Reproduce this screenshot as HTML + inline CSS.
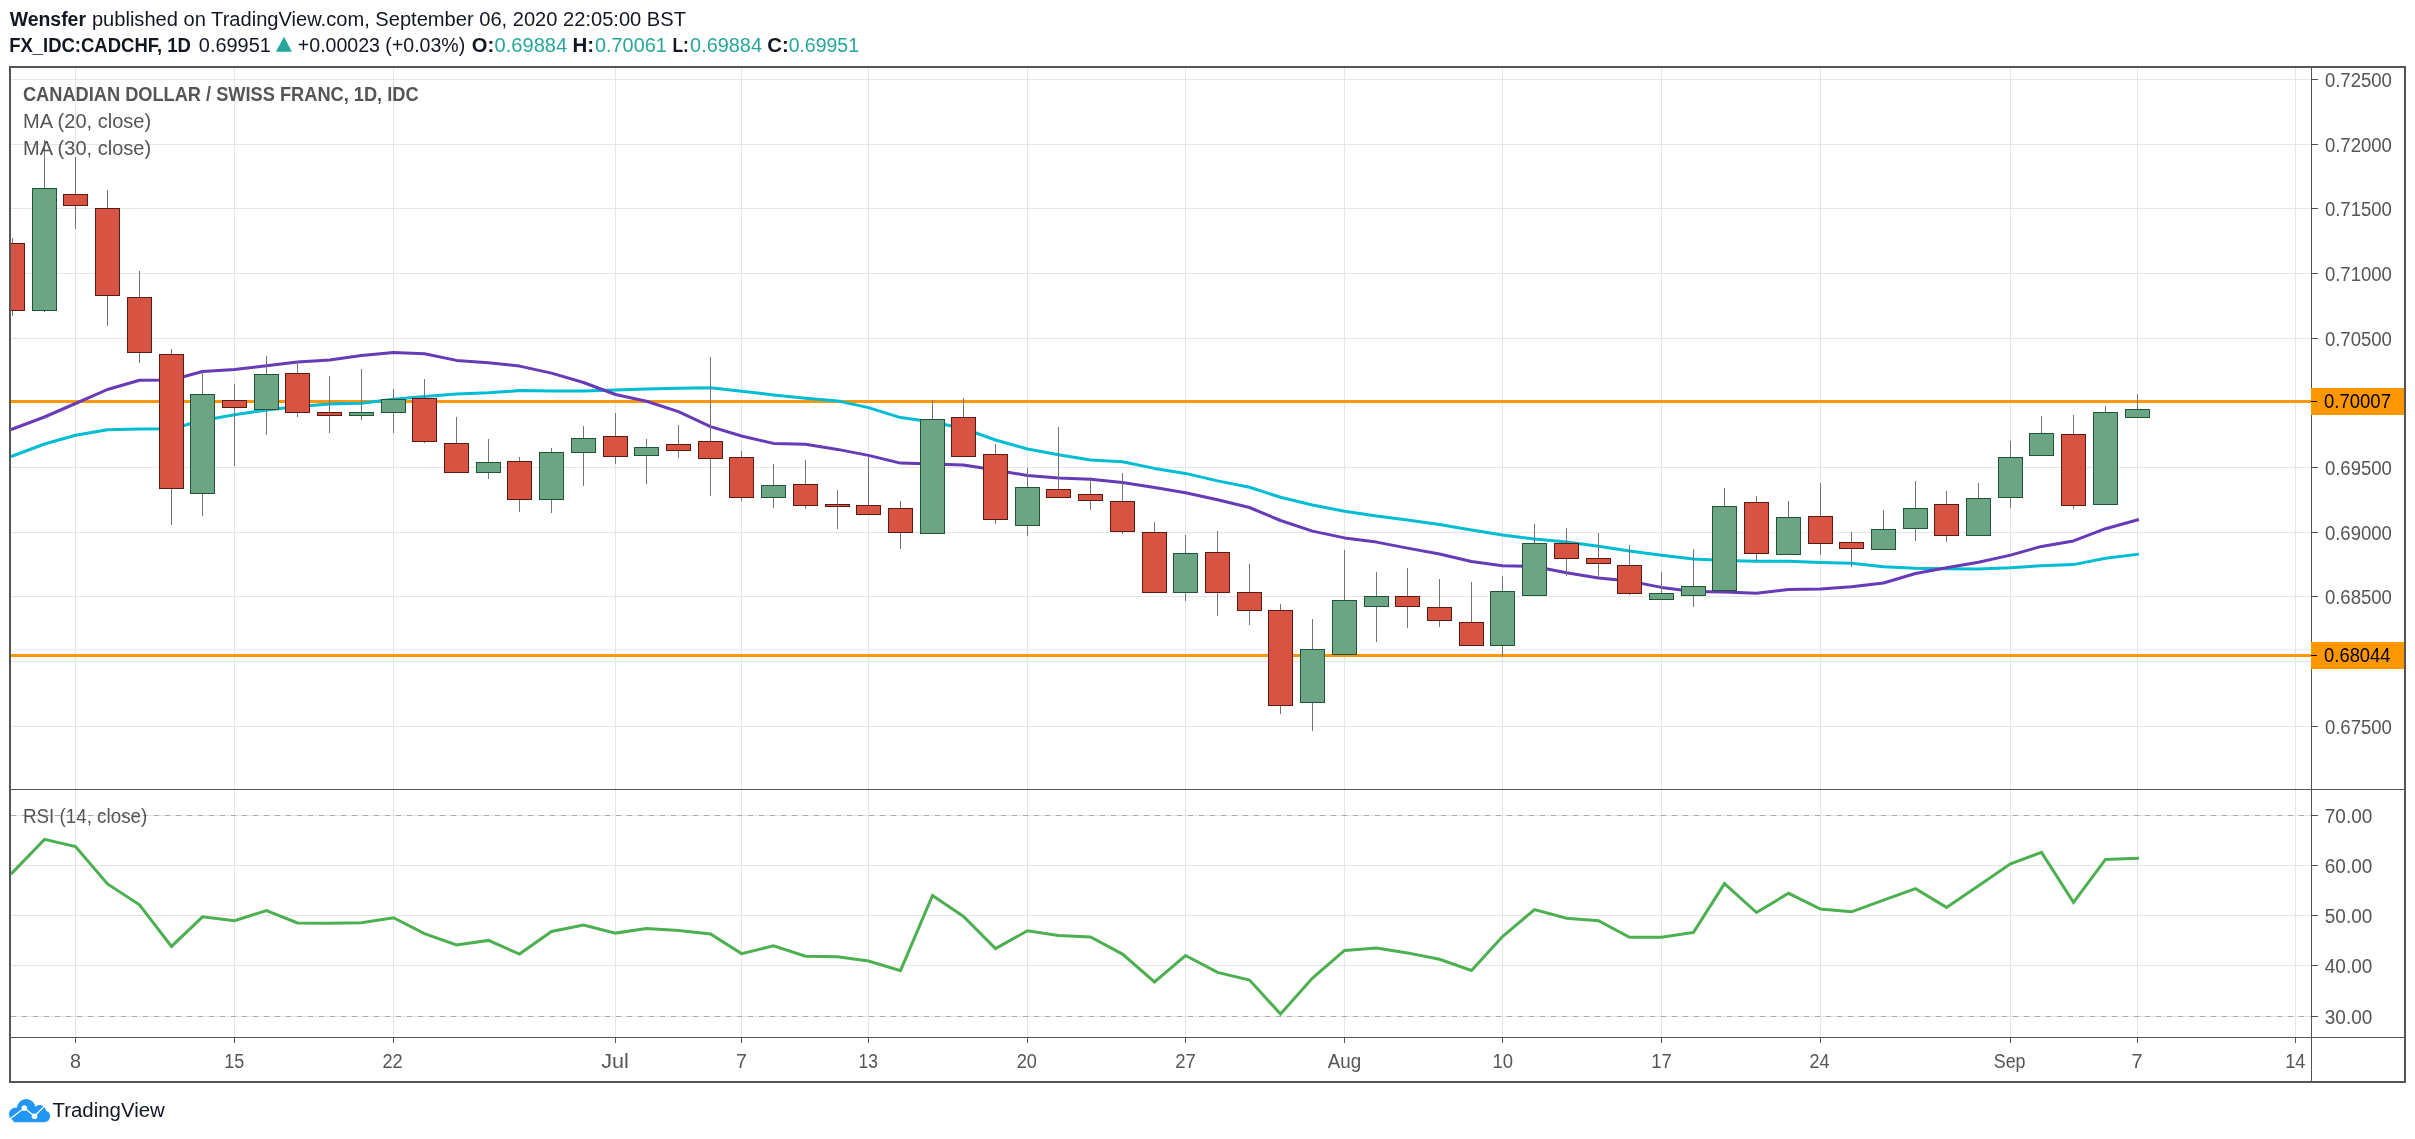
<!DOCTYPE html>
<html><head><meta charset="utf-8"><title>CADCHF chart</title><style>html,body{margin:0;padding:0;background:#fff;}body{width:2415px;height:1139px;overflow:hidden;}svg{display:block;will-change:transform;}</style></head><body>
<svg width="2415" height="1139" viewBox="0 0 2415 1139" font-family='"Liberation Sans", sans-serif'>
<rect x="0" y="0" width="2415" height="1139" fill="#ffffff"/>
<g shape-rendering="crispEdges">
<rect x="11" y="79" width="2300" height="1" fill="#e6e6e6"/>
<rect x="11" y="144" width="2300" height="1" fill="#e6e6e6"/>
<rect x="11" y="208" width="2300" height="1" fill="#e6e6e6"/>
<rect x="11" y="273" width="2300" height="1" fill="#e6e6e6"/>
<rect x="11" y="338" width="2300" height="1" fill="#e6e6e6"/>
<rect x="11" y="402" width="2300" height="1" fill="#e6e6e6"/>
<rect x="11" y="467" width="2300" height="1" fill="#e6e6e6"/>
<rect x="11" y="532" width="2300" height="1" fill="#e6e6e6"/>
<rect x="11" y="596" width="2300" height="1" fill="#e6e6e6"/>
<rect x="11" y="661" width="2300" height="1" fill="#e6e6e6"/>
<rect x="11" y="726" width="2300" height="1" fill="#e6e6e6"/>
<rect x="75" y="68" width="1" height="721" fill="#e6e6e6"/>
<rect x="75" y="790" width="1" height="247" fill="#e6e6e6"/>
<rect x="234" y="68" width="1" height="721" fill="#e6e6e6"/>
<rect x="234" y="790" width="1" height="247" fill="#e6e6e6"/>
<rect x="393" y="68" width="1" height="721" fill="#e6e6e6"/>
<rect x="393" y="790" width="1" height="247" fill="#e6e6e6"/>
<rect x="615" y="68" width="1" height="721" fill="#e6e6e6"/>
<rect x="615" y="790" width="1" height="247" fill="#e6e6e6"/>
<rect x="741" y="68" width="1" height="721" fill="#e6e6e6"/>
<rect x="741" y="790" width="1" height="247" fill="#e6e6e6"/>
<rect x="868" y="68" width="1" height="721" fill="#e6e6e6"/>
<rect x="868" y="790" width="1" height="247" fill="#e6e6e6"/>
<rect x="1027" y="68" width="1" height="721" fill="#e6e6e6"/>
<rect x="1027" y="790" width="1" height="247" fill="#e6e6e6"/>
<rect x="1185" y="68" width="1" height="721" fill="#e6e6e6"/>
<rect x="1185" y="790" width="1" height="247" fill="#e6e6e6"/>
<rect x="1344" y="68" width="1" height="721" fill="#e6e6e6"/>
<rect x="1344" y="790" width="1" height="247" fill="#e6e6e6"/>
<rect x="1502" y="68" width="1" height="721" fill="#e6e6e6"/>
<rect x="1502" y="790" width="1" height="247" fill="#e6e6e6"/>
<rect x="1661" y="68" width="1" height="721" fill="#e6e6e6"/>
<rect x="1661" y="790" width="1" height="247" fill="#e6e6e6"/>
<rect x="1820" y="68" width="1" height="721" fill="#e6e6e6"/>
<rect x="1820" y="790" width="1" height="247" fill="#e6e6e6"/>
<rect x="2010" y="68" width="1" height="721" fill="#e6e6e6"/>
<rect x="2010" y="790" width="1" height="247" fill="#e6e6e6"/>
<rect x="2137" y="68" width="1" height="721" fill="#e6e6e6"/>
<rect x="2137" y="790" width="1" height="247" fill="#e6e6e6"/>
<rect x="2295" y="68" width="1" height="721" fill="#e6e6e6"/>
<rect x="2295" y="790" width="1" height="247" fill="#e6e6e6"/>
<rect x="11" y="865" width="2300" height="1" fill="#e6e6e6"/>
<rect x="11" y="915" width="2300" height="1" fill="#e6e6e6"/>
<rect x="11" y="965" width="2300" height="1" fill="#e6e6e6"/>
<rect x="11" y="815" width="2300" height="1" fill="#e6e6e6"/>
<rect x="11" y="1016" width="2300" height="1" fill="#e6e6e6"/>
</g>
<line x1="11" y1="815.5" x2="2311" y2="815.5" stroke="#a9a9a9" stroke-width="1" stroke-dasharray="5 6" shape-rendering="crispEdges"/>
<line x1="11" y1="1016.5" x2="2311" y2="1016.5" stroke="#a9a9a9" stroke-width="1" stroke-dasharray="5 6" shape-rendering="crispEdges"/>
<g shape-rendering="crispEdges">
<rect x="11" y="400" width="2300" height="3" fill="#ff9800"/>
<rect x="11" y="654" width="2300" height="3" fill="#ff9800"/>
</g>
<defs><clipPath id="mainclip"><rect x="11" y="68" width="2300" height="721"/></clipPath><clipPath id="rsiclip"><rect x="11" y="790" width="2300" height="247"/></clipPath></defs>
<g clip-path="url(#mainclip)">
<polyline points="11.0,456.4 12.5,456.0 44.5,444.0 75.5,435.3 107.5,429.7 139.5,429.0 171.5,428.8 202.5,420.5 234.5,414.8 266.5,410.0 297.5,406.5 329.5,404.1 361.5,403.2 393.5,399.3 424.5,396.5 456.5,394.0 488.5,392.8 519.5,390.6 551.5,391.0 583.5,391.0 615.5,390.0 646.5,389.0 678.5,388.2 710.5,387.8 741.5,391.2 773.5,394.9 805.5,398.2 837.5,400.9 868.5,407.6 900.5,417.6 932.5,422.0 963.5,428.5 995.5,440.0 1027.5,449.0 1058.5,454.7 1090.5,460.0 1122.5,461.7 1154.5,468.4 1185.5,473.4 1217.5,480.9 1249.5,487.2 1280.5,497.3 1312.5,505.0 1344.5,511.3 1376.5,516.1 1407.5,520.1 1439.5,524.6 1471.5,529.9 1502.5,535.1 1534.5,539.0 1566.5,542.1 1598.5,546.3 1629.5,551.1 1661.5,555.3 1693.5,559.1 1724.5,560.5 1756.5,561.2 1788.5,561.2 1820.5,562.4 1851.5,563.2 1883.5,566.7 1915.5,568.3 1946.5,568.8 1978.5,569.0 2010.5,567.8 2041.5,565.7 2073.5,564.6 2105.5,558.3 2137.5,554.3" fill="none" stroke="#00bcd4" stroke-width="3" stroke-linejoin="round" stroke-linecap="square"/>
<polyline points="11.0,429.4 12.5,429.0 44.5,417.0 75.5,403.5 107.5,389.5 139.5,380.3 171.5,380.0 202.5,371.5 234.5,369.6 266.5,365.8 297.5,361.9 329.5,360.0 361.5,355.4 393.5,352.4 424.5,353.7 456.5,360.4 488.5,362.7 519.5,366.1 551.5,373.1 583.5,382.5 615.5,394.5 646.5,401.2 678.5,411.6 710.5,426.6 741.5,436.0 773.5,443.4 805.5,444.2 837.5,449.4 868.5,455.4 900.5,463.1 932.5,464.0 963.5,465.1 995.5,470.0 1027.5,475.6 1058.5,477.9 1090.5,479.2 1122.5,482.6 1154.5,487.6 1185.5,492.7 1217.5,499.7 1249.5,507.5 1280.5,520.5 1312.5,531.1 1344.5,537.9 1376.5,542.1 1407.5,548.1 1439.5,554.0 1471.5,561.5 1502.5,565.7 1534.5,566.5 1566.5,572.7 1598.5,577.9 1629.5,581.1 1661.5,587.4 1693.5,591.6 1724.5,592.1 1756.5,593.3 1788.5,589.6 1820.5,589.0 1851.5,586.8 1883.5,583.0 1915.5,573.5 1946.5,567.8 1978.5,562.2 2010.5,555.1 2041.5,546.4 2073.5,540.9 2105.5,528.7 2137.5,519.9" fill="none" stroke="#673ab7" stroke-width="3" stroke-linejoin="round" stroke-linecap="square"/>
<g shape-rendering="crispEdges">
<rect x="12" y="238" width="1" height="5" fill="#737375"/>
<rect x="12" y="311" width="1" height="5" fill="#737375"/>
<rect x="0" y="243" width="25" height="68" fill="#5b1a13"/>
<rect x="1" y="244" width="23" height="66" fill="#d75442"/>
<rect x="44" y="140" width="1" height="48" fill="#737375"/>
<rect x="44" y="311" width="1" height="1" fill="#737375"/>
<rect x="32" y="188" width="25" height="123" fill="#225437"/>
<rect x="33" y="189" width="23" height="121" fill="#6ba583"/>
<rect x="75" y="157" width="1" height="37" fill="#737375"/>
<rect x="75" y="206" width="1" height="23" fill="#737375"/>
<rect x="63" y="194" width="25" height="12" fill="#5b1a13"/>
<rect x="64" y="195" width="23" height="10" fill="#d75442"/>
<rect x="107" y="190" width="1" height="18" fill="#737375"/>
<rect x="107" y="296" width="1" height="30" fill="#737375"/>
<rect x="95" y="208" width="25" height="88" fill="#5b1a13"/>
<rect x="96" y="209" width="23" height="86" fill="#d75442"/>
<rect x="139" y="271" width="1" height="26" fill="#737375"/>
<rect x="139" y="353" width="1" height="10" fill="#737375"/>
<rect x="127" y="297" width="25" height="56" fill="#5b1a13"/>
<rect x="128" y="298" width="23" height="54" fill="#d75442"/>
<rect x="171" y="349" width="1" height="5" fill="#737375"/>
<rect x="171" y="489" width="1" height="36" fill="#737375"/>
<rect x="159" y="354" width="25" height="135" fill="#5b1a13"/>
<rect x="160" y="355" width="23" height="133" fill="#d75442"/>
<rect x="202" y="372" width="1" height="22" fill="#737375"/>
<rect x="202" y="494" width="1" height="22" fill="#737375"/>
<rect x="190" y="394" width="25" height="100" fill="#225437"/>
<rect x="191" y="395" width="23" height="98" fill="#6ba583"/>
<rect x="234" y="384" width="1" height="16" fill="#737375"/>
<rect x="234" y="408" width="1" height="58" fill="#737375"/>
<rect x="222" y="400" width="25" height="8" fill="#5b1a13"/>
<rect x="223" y="401" width="23" height="6" fill="#d75442"/>
<rect x="266" y="356" width="1" height="18" fill="#737375"/>
<rect x="266" y="410" width="1" height="25" fill="#737375"/>
<rect x="254" y="374" width="25" height="36" fill="#225437"/>
<rect x="255" y="375" width="23" height="34" fill="#6ba583"/>
<rect x="297" y="361" width="1" height="12" fill="#737375"/>
<rect x="297" y="413" width="1" height="4" fill="#737375"/>
<rect x="285" y="373" width="25" height="40" fill="#5b1a13"/>
<rect x="286" y="374" width="23" height="38" fill="#d75442"/>
<rect x="329" y="376" width="1" height="36" fill="#737375"/>
<rect x="329" y="416" width="1" height="17" fill="#737375"/>
<rect x="317" y="412" width="25" height="4" fill="#5b1a13"/>
<rect x="318" y="413" width="23" height="2" fill="#d75442"/>
<rect x="361" y="369" width="1" height="43" fill="#737375"/>
<rect x="361" y="416" width="1" height="4" fill="#737375"/>
<rect x="349" y="412" width="25" height="4" fill="#225437"/>
<rect x="350" y="413" width="23" height="2" fill="#6ba583"/>
<rect x="393" y="389" width="1" height="10" fill="#737375"/>
<rect x="393" y="413" width="1" height="20" fill="#737375"/>
<rect x="381" y="399" width="25" height="14" fill="#225437"/>
<rect x="382" y="400" width="23" height="12" fill="#6ba583"/>
<rect x="424" y="379" width="1" height="19" fill="#737375"/>
<rect x="424" y="442" width="1" height="1" fill="#737375"/>
<rect x="412" y="398" width="25" height="44" fill="#5b1a13"/>
<rect x="413" y="399" width="23" height="42" fill="#d75442"/>
<rect x="456" y="417" width="1" height="26" fill="#737375"/>
<rect x="444" y="443" width="25" height="30" fill="#5b1a13"/>
<rect x="445" y="444" width="23" height="28" fill="#d75442"/>
<rect x="488" y="439" width="1" height="23" fill="#737375"/>
<rect x="488" y="473" width="1" height="6" fill="#737375"/>
<rect x="476" y="462" width="25" height="11" fill="#225437"/>
<rect x="477" y="463" width="23" height="9" fill="#6ba583"/>
<rect x="519" y="457" width="1" height="4" fill="#737375"/>
<rect x="519" y="500" width="1" height="12" fill="#737375"/>
<rect x="507" y="461" width="25" height="39" fill="#5b1a13"/>
<rect x="508" y="462" width="23" height="37" fill="#d75442"/>
<rect x="551" y="448" width="1" height="4" fill="#737375"/>
<rect x="551" y="500" width="1" height="13" fill="#737375"/>
<rect x="539" y="452" width="25" height="48" fill="#225437"/>
<rect x="540" y="453" width="23" height="46" fill="#6ba583"/>
<rect x="583" y="426" width="1" height="12" fill="#737375"/>
<rect x="583" y="453" width="1" height="33" fill="#737375"/>
<rect x="571" y="438" width="25" height="15" fill="#225437"/>
<rect x="572" y="439" width="23" height="13" fill="#6ba583"/>
<rect x="615" y="413" width="1" height="23" fill="#737375"/>
<rect x="615" y="457" width="1" height="7" fill="#737375"/>
<rect x="603" y="436" width="25" height="21" fill="#5b1a13"/>
<rect x="604" y="437" width="23" height="19" fill="#d75442"/>
<rect x="646" y="439" width="1" height="8" fill="#737375"/>
<rect x="646" y="456" width="1" height="28" fill="#737375"/>
<rect x="634" y="447" width="25" height="9" fill="#225437"/>
<rect x="635" y="448" width="23" height="7" fill="#6ba583"/>
<rect x="678" y="425" width="1" height="19" fill="#737375"/>
<rect x="678" y="451" width="1" height="7" fill="#737375"/>
<rect x="666" y="444" width="25" height="7" fill="#5b1a13"/>
<rect x="667" y="445" width="23" height="5" fill="#d75442"/>
<rect x="710" y="357" width="1" height="84" fill="#737375"/>
<rect x="710" y="459" width="1" height="37" fill="#737375"/>
<rect x="698" y="441" width="25" height="18" fill="#5b1a13"/>
<rect x="699" y="442" width="23" height="16" fill="#d75442"/>
<rect x="741" y="451" width="1" height="6" fill="#737375"/>
<rect x="741" y="498" width="1" height="3" fill="#737375"/>
<rect x="729" y="457" width="25" height="41" fill="#5b1a13"/>
<rect x="730" y="458" width="23" height="39" fill="#d75442"/>
<rect x="773" y="464" width="1" height="21" fill="#737375"/>
<rect x="773" y="498" width="1" height="10" fill="#737375"/>
<rect x="761" y="485" width="25" height="13" fill="#225437"/>
<rect x="762" y="486" width="23" height="11" fill="#6ba583"/>
<rect x="805" y="460" width="1" height="24" fill="#737375"/>
<rect x="805" y="506" width="1" height="3" fill="#737375"/>
<rect x="793" y="484" width="25" height="22" fill="#5b1a13"/>
<rect x="794" y="485" width="23" height="20" fill="#d75442"/>
<rect x="837" y="490" width="1" height="14" fill="#737375"/>
<rect x="837" y="507" width="1" height="22" fill="#737375"/>
<rect x="825" y="504" width="25" height="3" fill="#5b1a13"/>
<rect x="826" y="505" width="23" height="1" fill="#d75442"/>
<rect x="868" y="456" width="1" height="49" fill="#737375"/>
<rect x="856" y="505" width="25" height="10" fill="#5b1a13"/>
<rect x="857" y="506" width="23" height="8" fill="#d75442"/>
<rect x="900" y="501" width="1" height="7" fill="#737375"/>
<rect x="900" y="533" width="1" height="16" fill="#737375"/>
<rect x="888" y="508" width="25" height="25" fill="#5b1a13"/>
<rect x="889" y="509" width="23" height="23" fill="#d75442"/>
<rect x="932" y="400" width="1" height="19" fill="#737375"/>
<rect x="920" y="419" width="25" height="115" fill="#225437"/>
<rect x="921" y="420" width="23" height="113" fill="#6ba583"/>
<rect x="963" y="398" width="1" height="19" fill="#737375"/>
<rect x="951" y="417" width="25" height="40" fill="#5b1a13"/>
<rect x="952" y="418" width="23" height="38" fill="#d75442"/>
<rect x="995" y="444" width="1" height="10" fill="#737375"/>
<rect x="995" y="520" width="1" height="4" fill="#737375"/>
<rect x="983" y="454" width="25" height="66" fill="#5b1a13"/>
<rect x="984" y="455" width="23" height="64" fill="#d75442"/>
<rect x="1027" y="468" width="1" height="19" fill="#737375"/>
<rect x="1027" y="526" width="1" height="10" fill="#737375"/>
<rect x="1015" y="487" width="25" height="39" fill="#225437"/>
<rect x="1016" y="488" width="23" height="37" fill="#6ba583"/>
<rect x="1058" y="427" width="1" height="62" fill="#737375"/>
<rect x="1046" y="489" width="25" height="9" fill="#5b1a13"/>
<rect x="1047" y="490" width="23" height="7" fill="#d75442"/>
<rect x="1090" y="477" width="1" height="17" fill="#737375"/>
<rect x="1090" y="501" width="1" height="9" fill="#737375"/>
<rect x="1078" y="494" width="25" height="7" fill="#5b1a13"/>
<rect x="1079" y="495" width="23" height="5" fill="#d75442"/>
<rect x="1122" y="473" width="1" height="28" fill="#737375"/>
<rect x="1122" y="532" width="1" height="2" fill="#737375"/>
<rect x="1110" y="501" width="25" height="31" fill="#5b1a13"/>
<rect x="1111" y="502" width="23" height="29" fill="#d75442"/>
<rect x="1154" y="522" width="1" height="10" fill="#737375"/>
<rect x="1142" y="532" width="25" height="61" fill="#5b1a13"/>
<rect x="1143" y="533" width="23" height="59" fill="#d75442"/>
<rect x="1185" y="535" width="1" height="18" fill="#737375"/>
<rect x="1185" y="593" width="1" height="8" fill="#737375"/>
<rect x="1173" y="553" width="25" height="40" fill="#225437"/>
<rect x="1174" y="554" width="23" height="38" fill="#6ba583"/>
<rect x="1217" y="531" width="1" height="21" fill="#737375"/>
<rect x="1217" y="593" width="1" height="23" fill="#737375"/>
<rect x="1205" y="552" width="25" height="41" fill="#5b1a13"/>
<rect x="1206" y="553" width="23" height="39" fill="#d75442"/>
<rect x="1249" y="564" width="1" height="28" fill="#737375"/>
<rect x="1249" y="611" width="1" height="14" fill="#737375"/>
<rect x="1237" y="592" width="25" height="19" fill="#5b1a13"/>
<rect x="1238" y="593" width="23" height="17" fill="#d75442"/>
<rect x="1280" y="604" width="1" height="6" fill="#737375"/>
<rect x="1280" y="706" width="1" height="8" fill="#737375"/>
<rect x="1268" y="610" width="25" height="96" fill="#5b1a13"/>
<rect x="1269" y="611" width="23" height="94" fill="#d75442"/>
<rect x="1312" y="619" width="1" height="30" fill="#737375"/>
<rect x="1312" y="703" width="1" height="28" fill="#737375"/>
<rect x="1300" y="649" width="25" height="54" fill="#225437"/>
<rect x="1301" y="650" width="23" height="52" fill="#6ba583"/>
<rect x="1344" y="550" width="1" height="50" fill="#737375"/>
<rect x="1332" y="600" width="25" height="55" fill="#225437"/>
<rect x="1333" y="601" width="23" height="53" fill="#6ba583"/>
<rect x="1376" y="572" width="1" height="24" fill="#737375"/>
<rect x="1376" y="607" width="1" height="35" fill="#737375"/>
<rect x="1364" y="596" width="25" height="11" fill="#225437"/>
<rect x="1365" y="597" width="23" height="9" fill="#6ba583"/>
<rect x="1407" y="568" width="1" height="28" fill="#737375"/>
<rect x="1407" y="607" width="1" height="21" fill="#737375"/>
<rect x="1395" y="596" width="25" height="11" fill="#5b1a13"/>
<rect x="1396" y="597" width="23" height="9" fill="#d75442"/>
<rect x="1439" y="579" width="1" height="28" fill="#737375"/>
<rect x="1439" y="621" width="1" height="6" fill="#737375"/>
<rect x="1427" y="607" width="25" height="14" fill="#5b1a13"/>
<rect x="1428" y="608" width="23" height="12" fill="#d75442"/>
<rect x="1471" y="582" width="1" height="40" fill="#737375"/>
<rect x="1459" y="622" width="25" height="24" fill="#5b1a13"/>
<rect x="1460" y="623" width="23" height="22" fill="#d75442"/>
<rect x="1502" y="576" width="1" height="15" fill="#737375"/>
<rect x="1502" y="646" width="1" height="11" fill="#737375"/>
<rect x="1490" y="591" width="25" height="55" fill="#225437"/>
<rect x="1491" y="592" width="23" height="53" fill="#6ba583"/>
<rect x="1534" y="524" width="1" height="19" fill="#737375"/>
<rect x="1522" y="543" width="25" height="53" fill="#225437"/>
<rect x="1523" y="544" width="23" height="51" fill="#6ba583"/>
<rect x="1566" y="528" width="1" height="15" fill="#737375"/>
<rect x="1566" y="559" width="1" height="17" fill="#737375"/>
<rect x="1554" y="543" width="25" height="16" fill="#5b1a13"/>
<rect x="1555" y="544" width="23" height="14" fill="#d75442"/>
<rect x="1598" y="533" width="1" height="25" fill="#737375"/>
<rect x="1598" y="564" width="1" height="13" fill="#737375"/>
<rect x="1586" y="558" width="25" height="6" fill="#5b1a13"/>
<rect x="1587" y="559" width="23" height="4" fill="#d75442"/>
<rect x="1629" y="545" width="1" height="20" fill="#737375"/>
<rect x="1629" y="594" width="1" height="1" fill="#737375"/>
<rect x="1617" y="565" width="25" height="29" fill="#5b1a13"/>
<rect x="1618" y="566" width="23" height="27" fill="#d75442"/>
<rect x="1661" y="572" width="1" height="21" fill="#737375"/>
<rect x="1649" y="593" width="25" height="7" fill="#225437"/>
<rect x="1650" y="594" width="23" height="5" fill="#6ba583"/>
<rect x="1693" y="549" width="1" height="37" fill="#737375"/>
<rect x="1693" y="596" width="1" height="11" fill="#737375"/>
<rect x="1681" y="586" width="25" height="10" fill="#225437"/>
<rect x="1682" y="587" width="23" height="8" fill="#6ba583"/>
<rect x="1724" y="488" width="1" height="18" fill="#737375"/>
<rect x="1712" y="506" width="25" height="85" fill="#225437"/>
<rect x="1713" y="507" width="23" height="83" fill="#6ba583"/>
<rect x="1756" y="496" width="1" height="6" fill="#737375"/>
<rect x="1756" y="554" width="1" height="7" fill="#737375"/>
<rect x="1744" y="502" width="25" height="52" fill="#5b1a13"/>
<rect x="1745" y="503" width="23" height="50" fill="#d75442"/>
<rect x="1788" y="501" width="1" height="16" fill="#737375"/>
<rect x="1776" y="517" width="25" height="38" fill="#225437"/>
<rect x="1777" y="518" width="23" height="36" fill="#6ba583"/>
<rect x="1820" y="483" width="1" height="33" fill="#737375"/>
<rect x="1820" y="544" width="1" height="11" fill="#737375"/>
<rect x="1808" y="516" width="25" height="28" fill="#5b1a13"/>
<rect x="1809" y="517" width="23" height="26" fill="#d75442"/>
<rect x="1851" y="532" width="1" height="10" fill="#737375"/>
<rect x="1851" y="549" width="1" height="18" fill="#737375"/>
<rect x="1839" y="542" width="25" height="7" fill="#5b1a13"/>
<rect x="1840" y="543" width="23" height="5" fill="#d75442"/>
<rect x="1883" y="510" width="1" height="19" fill="#737375"/>
<rect x="1871" y="529" width="25" height="21" fill="#225437"/>
<rect x="1872" y="530" width="23" height="19" fill="#6ba583"/>
<rect x="1915" y="481" width="1" height="27" fill="#737375"/>
<rect x="1915" y="529" width="1" height="12" fill="#737375"/>
<rect x="1903" y="508" width="25" height="21" fill="#225437"/>
<rect x="1904" y="509" width="23" height="19" fill="#6ba583"/>
<rect x="1946" y="491" width="1" height="13" fill="#737375"/>
<rect x="1946" y="536" width="1" height="6" fill="#737375"/>
<rect x="1934" y="504" width="25" height="32" fill="#5b1a13"/>
<rect x="1935" y="505" width="23" height="30" fill="#d75442"/>
<rect x="1978" y="483" width="1" height="15" fill="#737375"/>
<rect x="1966" y="498" width="25" height="38" fill="#225437"/>
<rect x="1967" y="499" width="23" height="36" fill="#6ba583"/>
<rect x="2010" y="441" width="1" height="16" fill="#737375"/>
<rect x="2010" y="498" width="1" height="10" fill="#737375"/>
<rect x="1998" y="457" width="25" height="41" fill="#225437"/>
<rect x="1999" y="458" width="23" height="39" fill="#6ba583"/>
<rect x="2041" y="416" width="1" height="17" fill="#737375"/>
<rect x="2029" y="433" width="25" height="23" fill="#225437"/>
<rect x="2030" y="434" width="23" height="21" fill="#6ba583"/>
<rect x="2073" y="415" width="1" height="19" fill="#737375"/>
<rect x="2073" y="506" width="1" height="3" fill="#737375"/>
<rect x="2061" y="434" width="25" height="72" fill="#5b1a13"/>
<rect x="2062" y="435" width="23" height="70" fill="#d75442"/>
<rect x="2105" y="406" width="1" height="6" fill="#737375"/>
<rect x="2093" y="412" width="25" height="93" fill="#225437"/>
<rect x="2094" y="413" width="23" height="91" fill="#6ba583"/>
<rect x="2137" y="394" width="1" height="15" fill="#737375"/>
<rect x="2125" y="409" width="25" height="9" fill="#225437"/>
<rect x="2126" y="410" width="23" height="7" fill="#6ba583"/>
</g>
</g>
<g clip-path="url(#rsiclip)">
<polyline points="11.0,873.5 12.5,872.5 44.5,839.4 75.5,846.6 107.5,883.9 139.5,904.8 171.5,946.4 202.5,916.8 234.5,920.7 266.5,910.5 297.5,923.0 329.5,923.3 361.5,922.8 393.5,917.7 424.5,933.6 456.5,945.0 488.5,940.4 519.5,954.1 551.5,931.5 583.5,925.0 615.5,933.1 646.5,928.4 678.5,930.5 710.5,933.9 741.5,953.6 773.5,945.9 805.5,956.2 837.5,956.7 868.5,961.0 900.5,970.7 932.5,895.4 963.5,916.5 995.5,948.6 1027.5,930.7 1058.5,935.6 1090.5,937.0 1122.5,954.1 1154.5,981.9 1185.5,955.5 1217.5,972.4 1249.5,980.1 1280.5,1014.0 1312.5,978.1 1344.5,950.4 1376.5,948.1 1407.5,952.9 1439.5,959.3 1471.5,970.4 1502.5,936.5 1534.5,909.6 1566.5,918.2 1598.5,920.7 1629.5,937.3 1661.5,937.3 1693.5,932.4 1724.5,883.6 1756.5,912.5 1788.5,893.3 1820.5,909.1 1851.5,911.8 1883.5,900.2 1915.5,888.7 1946.5,907.4 1978.5,885.7 2010.5,863.8 2041.5,852.4 2073.5,902.4 2105.5,859.4 2137.5,858.4" fill="none" stroke="#4caf50" stroke-width="3" stroke-linejoin="miter" stroke-miterlimit="3" stroke-linecap="square"/>
</g>
<g shape-rendering="crispEdges">
<rect x="9" y="66" width="2397" height="2" fill="#555555"/>
<rect x="9" y="1081" width="2397" height="2" fill="#555555"/>
<rect x="9" y="66" width="2" height="1017" fill="#555555"/>
<rect x="2404" y="66" width="2" height="1017" fill="#555555"/>
<rect x="2311" y="68" width="1" height="1013" fill="#555555"/>
<rect x="11" y="789" width="2393" height="1" fill="#555555"/>
<rect x="11" y="1037" width="2393" height="1" fill="#555555"/>
<rect x="2312" y="79" width="6" height="1" fill="#555555"/>
<rect x="2312" y="144" width="6" height="1" fill="#555555"/>
<rect x="2312" y="208" width="6" height="1" fill="#555555"/>
<rect x="2312" y="273" width="6" height="1" fill="#555555"/>
<rect x="2312" y="338" width="6" height="1" fill="#555555"/>
<rect x="2312" y="467" width="6" height="1" fill="#555555"/>
<rect x="2312" y="532" width="6" height="1" fill="#555555"/>
<rect x="2312" y="596" width="6" height="1" fill="#555555"/>
<rect x="2312" y="726" width="6" height="1" fill="#555555"/>
<rect x="2312" y="815" width="6" height="1" fill="#555555"/>
<rect x="2312" y="865" width="6" height="1" fill="#555555"/>
<rect x="2312" y="915" width="6" height="1" fill="#555555"/>
<rect x="2312" y="965" width="6" height="1" fill="#555555"/>
<rect x="2312" y="1016" width="6" height="1" fill="#555555"/>
<rect x="75" y="1038" width="1" height="5" fill="#555555"/>
<rect x="234" y="1038" width="1" height="5" fill="#555555"/>
<rect x="393" y="1038" width="1" height="5" fill="#555555"/>
<rect x="615" y="1038" width="1" height="5" fill="#555555"/>
<rect x="741" y="1038" width="1" height="5" fill="#555555"/>
<rect x="868" y="1038" width="1" height="5" fill="#555555"/>
<rect x="1027" y="1038" width="1" height="5" fill="#555555"/>
<rect x="1185" y="1038" width="1" height="5" fill="#555555"/>
<rect x="1344" y="1038" width="1" height="5" fill="#555555"/>
<rect x="1502" y="1038" width="1" height="5" fill="#555555"/>
<rect x="1661" y="1038" width="1" height="5" fill="#555555"/>
<rect x="1820" y="1038" width="1" height="5" fill="#555555"/>
<rect x="2010" y="1038" width="1" height="5" fill="#555555"/>
<rect x="2137" y="1038" width="1" height="5" fill="#555555"/>
<rect x="2295" y="1038" width="1" height="5" fill="#555555"/>
</g>
<text x="2324.88" y="86.9" font-size="20" fill="#555555" textLength="67.05" lengthAdjust="spacingAndGlyphs">0.72500</text>
<text x="2324.88" y="151.9" font-size="20" fill="#555555" textLength="67.05" lengthAdjust="spacingAndGlyphs">0.72000</text>
<text x="2324.88" y="215.9" font-size="20" fill="#555555" textLength="67.05" lengthAdjust="spacingAndGlyphs">0.71500</text>
<text x="2324.88" y="280.9" font-size="20" fill="#555555" textLength="67.05" lengthAdjust="spacingAndGlyphs">0.71000</text>
<text x="2324.88" y="345.9" font-size="20" fill="#555555" textLength="67.05" lengthAdjust="spacingAndGlyphs">0.70500</text>
<text x="2324.88" y="474.9" font-size="20" fill="#555555" textLength="67.05" lengthAdjust="spacingAndGlyphs">0.69500</text>
<text x="2324.88" y="539.9" font-size="20" fill="#555555" textLength="67.05" lengthAdjust="spacingAndGlyphs">0.69000</text>
<text x="2324.88" y="603.9" font-size="20" fill="#555555" textLength="67.05" lengthAdjust="spacingAndGlyphs">0.68500</text>
<text x="2324.88" y="733.9" font-size="20" fill="#555555" textLength="67.05" lengthAdjust="spacingAndGlyphs">0.67500</text>
<text x="2324.83" y="822.9" font-size="20" fill="#555555" textLength="47.41" lengthAdjust="spacingAndGlyphs">70.00</text>
<text x="2324.83" y="872.9" font-size="20" fill="#555555" textLength="47.41" lengthAdjust="spacingAndGlyphs">60.00</text>
<text x="2324.83" y="922.9" font-size="20" fill="#555555" textLength="47.41" lengthAdjust="spacingAndGlyphs">50.00</text>
<text x="2324.83" y="972.9" font-size="20" fill="#555555" textLength="47.41" lengthAdjust="spacingAndGlyphs">40.00</text>
<text x="2324.83" y="1023.9" font-size="20" fill="#555555" textLength="47.41" lengthAdjust="spacingAndGlyphs">30.00</text>
<g shape-rendering="crispEdges">
<rect x="2311" y="388" width="93" height="27" fill="#ff9800"/>
<rect x="2311" y="642" width="93" height="27" fill="#ff9800"/>
<rect x="2311" y="401" width="6" height="1" fill="#000000"/>
<rect x="2311" y="655" width="6" height="1" fill="#000000"/>
</g>
<text x="2324.08" y="407.7" font-size="19.5" fill="#000000" textLength="66.85" lengthAdjust="spacingAndGlyphs">0.70007</text>
<text x="2324.08" y="661.7" font-size="19.5" fill="#000000" textLength="66.46" lengthAdjust="spacingAndGlyphs">0.68044</text>
<text x="70.04" y="1067.8" font-size="20" fill="#555555" textLength="11.02" lengthAdjust="spacingAndGlyphs">8</text>
<text x="224.23" y="1067.8" font-size="20" fill="#555555" textLength="20.03" lengthAdjust="spacingAndGlyphs">15</text>
<text x="382.39" y="1067.8" font-size="20" fill="#555555" textLength="20.23" lengthAdjust="spacingAndGlyphs">22</text>
<text x="736.0" y="1067.8" font-size="20" fill="#555555" textLength="10.89" lengthAdjust="spacingAndGlyphs">7</text>
<text x="858.47" y="1067.8" font-size="20" fill="#555555" textLength="19.39" lengthAdjust="spacingAndGlyphs">13</text>
<text x="1016.69" y="1067.8" font-size="20" fill="#555555" textLength="20.22" lengthAdjust="spacingAndGlyphs">20</text>
<text x="1175.17" y="1067.8" font-size="20" fill="#555555" textLength="20.67" lengthAdjust="spacingAndGlyphs">27</text>
<text x="1492.39" y="1067.8" font-size="20" fill="#555555" textLength="20.53" lengthAdjust="spacingAndGlyphs">10</text>
<text x="1651.3" y="1067.8" font-size="20" fill="#555555" textLength="20.42" lengthAdjust="spacingAndGlyphs">17</text>
<text x="1809.59" y="1067.8" font-size="20" fill="#555555" textLength="20.03" lengthAdjust="spacingAndGlyphs">24</text>
<text x="2131.48" y="1067.8" font-size="20" fill="#555555" textLength="11.01" lengthAdjust="spacingAndGlyphs">7</text>
<text x="2285.22" y="1067.8" font-size="20" fill="#555555" textLength="20.22" lengthAdjust="spacingAndGlyphs">14</text>
<text x="601.26" y="1067.8" font-size="20" fill="#555555" textLength="27.58" lengthAdjust="spacingAndGlyphs">Jul</text>
<text x="1327.86" y="1067.8" font-size="20" fill="#555555" textLength="33.34" lengthAdjust="spacingAndGlyphs">Aug</text>
<text x="1993.79" y="1067.8" font-size="20" fill="#555555" textLength="31.76" lengthAdjust="spacingAndGlyphs">Sep</text>
<text x="22.95" y="100.7" font-size="20" fill="#555555" font-weight="bold" textLength="395.65" lengthAdjust="spacingAndGlyphs">CANADIAN DOLLAR / SWISS FRANC, 1D, IDC</text>
<text x="23.07" y="127.8" font-size="20" fill="#555555" textLength="128.06" lengthAdjust="spacingAndGlyphs">MA (20, close)</text>
<text x="23.07" y="154.8" font-size="20" fill="#555555" textLength="128.06" lengthAdjust="spacingAndGlyphs">MA (30, close)</text>
<text x="22.96" y="823" font-size="20" fill="#555555" textLength="124.31" lengthAdjust="spacingAndGlyphs">RSI (14, close)</text>
<text x="9.68" y="25.9" font-size="20" fill="#131722" font-weight="bold" textLength="76.31" lengthAdjust="spacingAndGlyphs">Wensfer</text>
<text x="91.91" y="25.9" font-size="20" fill="#131722" textLength="594.05" lengthAdjust="spacingAndGlyphs">published on TradingView.com, September 06, 2020 22:05:00 BST</text>
<text x="9.13" y="51.9" font-size="20" fill="#131722" font-weight="bold" textLength="181.74" lengthAdjust="spacingAndGlyphs">FX_IDC:CADCHF, 1D</text>
<text x="198.82" y="51.9" font-size="20" fill="#131722" textLength="72.05" lengthAdjust="spacingAndGlyphs">0.69951</text>
<polygon points="275.9,51.7 292,51.7 283.95,36.7" fill="#26a69a"/>
<text x="297.85" y="51.9" font-size="20" fill="#131722" textLength="167.37" lengthAdjust="spacingAndGlyphs">+0.00023 (+0.03%)</text>
<text x="471.87" y="51.9" font-size="20" fill="#131722" font-weight="bold" textLength="22.36" lengthAdjust="spacingAndGlyphs">O:</text>
<text x="494.51" y="51.9" font-size="20" fill="#26a69a" textLength="72.67" lengthAdjust="spacingAndGlyphs">0.69884</text>
<text x="572.43" y="51.9" font-size="20" fill="#131722" font-weight="bold" textLength="21.65" lengthAdjust="spacingAndGlyphs">H:</text>
<text x="595.02" y="51.9" font-size="20" fill="#26a69a" textLength="71.74" lengthAdjust="spacingAndGlyphs">0.70061</text>
<text x="672.43" y="51.9" font-size="20" fill="#131722" font-weight="bold" textLength="16.44" lengthAdjust="spacingAndGlyphs">L:</text>
<text x="690.12" y="51.9" font-size="20" fill="#26a69a" textLength="71.86" lengthAdjust="spacingAndGlyphs">0.69884</text>
<text x="767.26" y="51.9" font-size="20" fill="#131722" font-weight="bold" textLength="21.5" lengthAdjust="spacingAndGlyphs">C:</text>
<text x="788.64" y="51.9" font-size="20" fill="#26a69a" textLength="70.41" lengthAdjust="spacingAndGlyphs">0.69951</text>
<g fill="#2196f3"><circle cx="15.8" cy="1114.2" r="6.8"/><circle cx="26.2" cy="1108.3" r="9.3"/><circle cx="39.6" cy="1111.6" r="6.6"/><circle cx="44.6" cy="1116.2" r="5.6"/><rect x="13" y="1111" width="33" height="11.2" rx="2"/></g>
<g fill="none" stroke="#ffffff" stroke-width="1.3"><polyline points="9.8,1119 24.4,1108.1 34.5,1116.3 44.2,1106.4" stroke-linejoin="round"/></g><circle cx="24.4" cy="1108.1" r="2.8" fill="#ffffff"/><circle cx="34.5" cy="1116.3" r="2.8" fill="#ffffff"/>
<text x="52.55" y="1117" font-size="20" fill="#131722" textLength="112.2" lengthAdjust="spacingAndGlyphs">TradingView</text>
</svg>
</body></html>
